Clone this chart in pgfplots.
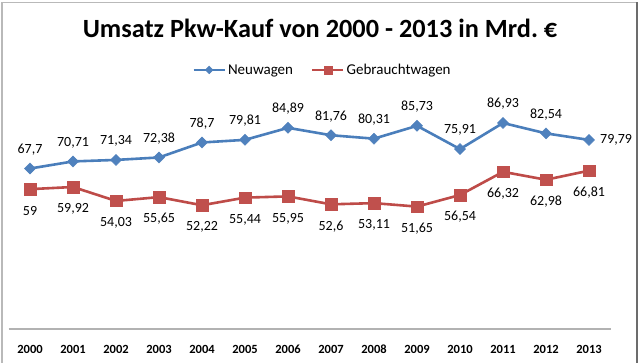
\documentclass[border=0pt]{standalone}
\usepackage{pgfplots}
\pgfplotsset{compat=1.18}
\usepackage{fontspec}
\setmainfont{Carlito}
\definecolor{nblue}{HTML}{4A7EBB}
\definecolor{nbluef}{HTML}{4F81BD}
\definecolor{nred}{HTML}{BE4B48}
\definecolor{nredf}{HTML}{C0504D}
\begin{document}
\begin{tikzpicture}
\useasboundingbox (0pt,0pt) rectangle (640pt,362pt);
\fill[white] (0pt,0pt) rectangle (640pt,362pt);
\draw[gray!55, line width=1.3pt] (2pt,-5pt) -- (2pt,359.5pt) -- (637pt,359.5pt);
\draw[gray!85!black, line width=1.6pt] (637pt,359.5pt) -- (637pt,-5pt);
\node[font=\bfseries\fontsize{26.3}{30}\selectfont, anchor=base, inner sep=0pt] at (320pt,324.5pt) {Umsatz Pkw-Kauf von 2000 - 2013 in Mrd.~€};
\begin{axis}[
  at={(8.5pt,33pt)}, anchor=south west,
  scale only axis, width=602pt, height=237pt,
  xmin=-0.5, xmax=13.5, ymin=0, ymax=100,
  axis y line=none,
  axis x line*=bottom,
  x axis line style={-, gray!60, line width=1.2pt},
  xtick={0,...,13},
  xticklabels={2000,2001,2002,2003,2004,2005,2006,2007,2008,2009,2010,2011,2012,2013},
  major tick length=0pt,
  xticklabel style={font=\bfseries\fontsize{12.5}{14}\selectfont, anchor=base, yshift=-24pt, inner sep=0pt},
  clip=false,
  legend style={at={(0.5216,1.093)}, anchor=center, draw=none, fill=none,
    font=\fontsize{15}{17}\selectfont, legend columns=2, inner sep=0pt,
    /tikz/every even column/.append style={column sep=16pt}},
  legend image code/.code={\draw[mark repeat=2,mark phase=2,#1, every mark/.append style={scale=0.7}] plot coordinates {(0pt,0pt) (15.5pt,0pt) (31pt,0pt)};},
]
\addplot[color=nblue, line width=2.6pt, mark=square*, mark size=3.9pt,
  mark options={rotate=45, fill=nbluef, draw=nbluef, line width=0.5pt},
  nodes near coords, point meta=explicit symbolic,
  every node near coord/.append style={font=\fontsize{14}{16}\selectfont, color=black, anchor=center, inner sep=0pt, yshift=19pt, rotate=0}]
table[x=x, y=y, meta=lab] {
x y lab
0 67.7 67,7
1 70.71 70,71
2 71.34 71,34
3 72.38 72,38
4 78.7 78,7
5 79.81 79,81
6 84.89 84,89
7 81.76 81,76
8 80.31 80,31
9 85.73 85,73
10 75.91 75,91
11 86.93 86,93
12 82.54 82,54
13 79.79 {}
};
\addlegendentry{Neuwagen}
\addplot[color=nred, line width=2.6pt, mark=square*, mark size=5.8pt,
  mark options={fill=nredf, draw=nredf, line width=0.5pt},
  nodes near coords, point meta=explicit symbolic,
  every node near coord/.append style={font=\fontsize{14}{16}\selectfont, color=black, anchor=center, inner sep=0pt, yshift=-22pt}]
table[x=x, y=y, meta=lab] {
x y lab
0 59 59
1 59.92 59,92
2 54.03 54,03
3 55.65 55,65
4 52.22 52,22
5 55.44 55,44
6 55.95 55,95
7 52.6 52,6
8 53.11 53,11
9 51.65 51,65
10 56.54 56,54
11 66.32 66,32
12 62.98 62,98
13 66.81 66,81
};
\addlegendentry{Gebrauchtwagen}
\addplot[draw=none, mark=none, forget plot, nodes near coords, point meta=explicit symbolic,
  every node near coord/.append style={font=\fontsize{14}{16}\selectfont, color=black, anchor=west, inner sep=0pt, xshift=11pt}]
table[x=x, y=y, meta=lab] {
x y lab
13 79.79 79,79
};
\end{axis}
\end{tikzpicture}
\end{document}
